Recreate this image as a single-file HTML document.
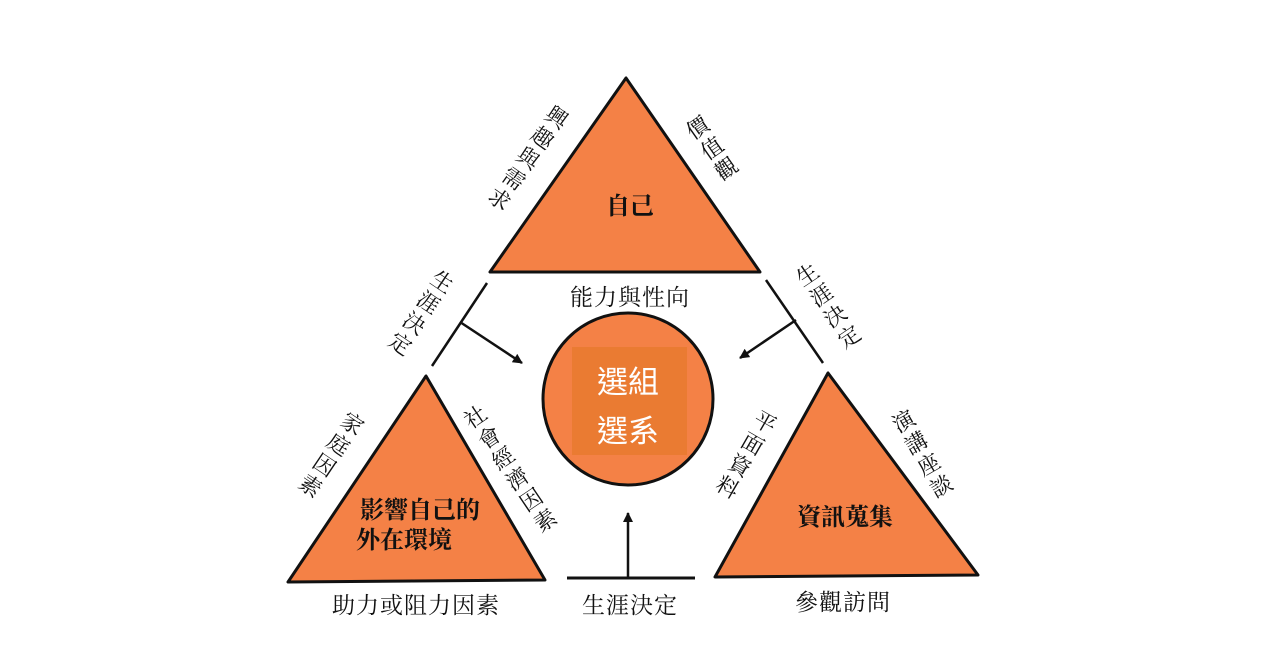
<!DOCTYPE html>
<html><head><meta charset="utf-8"><style>
html,body{margin:0;padding:0;background:#fff;}
svg{display:block;}
text{font-family:"Liberation Serif","Noto Serif CJK SC","Noto Sans CJK TC",serif;fill:#111;}
.v{writing-mode:tb;glyph-orientation-vertical:0;font-size:22px;letter-spacing:3px;}
.b{font-size:23px;letter-spacing:1px;}
</style></head><body>
<svg width="1266" height="670" viewBox="0 0 1266 670" xmlns="http://www.w3.org/2000/svg">
<defs><marker id="ah" markerWidth="10" markerHeight="10" refX="9" refY="5" orient="auto" markerUnits="userSpaceOnUse"><path d="M0,0 L10,5 L0,10 z" fill="#111"/></marker></defs>
<rect width="1266" height="670" fill="#fff"/>
<polygon points="626,78 490,272 760,272" fill="#f48146" stroke="#111" stroke-width="3" stroke-linejoin="round"/>
<polygon points="426,376 288,582 545,580" fill="#f48146" stroke="#111" stroke-width="3" stroke-linejoin="round"/>
<polygon points="828,373 715,577 978,575" fill="#f48146" stroke="#111" stroke-width="3" stroke-linejoin="round"/>
<ellipse cx="628" cy="399" rx="85" ry="86" fill="#f48146" stroke="#111" stroke-width="3"/>
<rect x="572" y="347" width="115" height="108" fill="#ea7b32"/>
<text x="628" y="393" text-anchor="middle" style="font-family:'Liberation Sans','Noto Sans CJK TC',sans-serif;fill:#fff;font-size:31px">選組</text>
<text x="628" y="442" text-anchor="middle" style="font-family:'Liberation Sans','Noto Sans CJK TC',sans-serif;fill:#fff;font-size:31px">選系</text>
<line x1="487" y1="283" x2="432" y2="366" stroke="#111" stroke-width="2.5"/>
<line x1="460" y1="322" x2="522" y2="363" stroke="#111" stroke-width="2.5" marker-end="url(#ah)"/>
<line x1="766" y1="280" x2="823" y2="363" stroke="#111" stroke-width="2.5"/>
<line x1="796" y1="320" x2="740" y2="358" stroke="#111" stroke-width="2.5" marker-end="url(#ah)"/>
<line x1="567" y1="578" x2="695" y2="578" stroke="#111" stroke-width="3"/>
<line x1="628" y1="578" x2="628" y2="513" stroke="#111" stroke-width="2.5" marker-end="url(#ah)"/>
<text x="630" y="214" text-anchor="middle" style="font-size:24px;font-weight:bold">自己</text>
<text x="420" y="518" text-anchor="middle" style="font-size:24px;font-weight:bold">影響自己的</text>
<text x="404" y="548" text-anchor="middle" style="font-size:24px;font-weight:bold">外在環境</text>
<text x="845" y="525" text-anchor="middle" style="font-size:24px;font-weight:bold">資訊蒐集</text>
<text x="630" y="305" text-anchor="middle" class="b">能力與性向</text>
<text x="416" y="613" text-anchor="middle" class="b">助力或阻力因素</text>
<text x="630" y="613" text-anchor="middle" class="b">生涯決定</text>
<text x="843" y="610" text-anchor="middle" class="b">參觀訪問</text>
<g transform="translate(527,158) rotate(35)"><text class="v" x="0" y="-62">興趣與需求</text></g>
<g transform="translate(712,150) rotate(-35)"><text class="v" x="0" y="-38">價值觀</text></g>
<g transform="translate(420,313) rotate(34)"><text class="v" x="0" y="-50">生涯決定</text></g>
<g transform="translate(828,307) rotate(-34)"><text class="v" x="0" y="-50">生涯決定</text></g>
<g transform="translate(330,455) rotate(34)"><text class="v" x="0" y="-50">家庭因素</text></g>
<g transform="translate(510,470) rotate(-34)"><text class="v" x="0" y="-75">社會經濟因素</text></g>
<g transform="translate(745,455) rotate(30)"><text class="v" x="0" y="-50">平面資料</text></g>
<g transform="translate(922,455) rotate(-30)"><text class="v" x="0" y="-50">演講座談</text></g>
</svg>
</body></html>
